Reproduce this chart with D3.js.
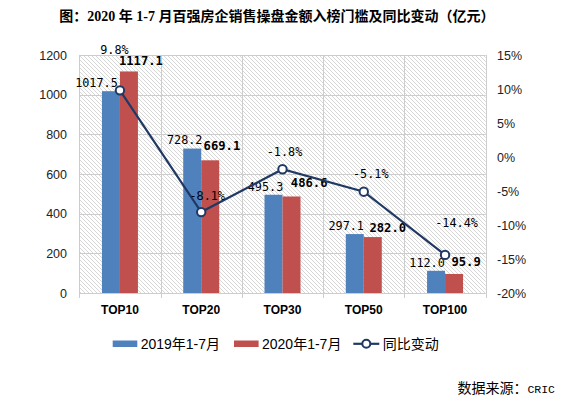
<!DOCTYPE html>
<html><head><meta charset="utf-8">
<script src="https://cdn.jsdelivr.net/npm/d3@7"></script>
<style>
html,body{margin:0;padding:0;background:#fff;}
svg{display:block;}
</style></head>
<body>
<svg id="chart" width="566" height="405"></svg>
<script>
// ---- data ----
const categories = ["TOP10","TOP20","TOP30","TOP50","TOP100"];
const seriesNames = ["2019年1-7月","2020年1-7月","同比变动"];
const values2019 = [1017.5, 728.2, 495.3, 297.1, 112.0];
const values2020 = [1117.1, 669.1, 486.6, 282.0, 95.9];
const yoyChange = [9.8, -8.1, -1.8, -5.1, -14.4];
const leftTicks = [0, 200, 400, 600, 800, 1000, 1200];
const rightTicks = [-20, -15, -10, -5, 0, 5, 10, 15];
const titleText = "图：2020 年 1-7 月百强房企销售操盘金额入榜门槛及同比变动（亿元）";
const sourceLabel = "数据来源：";
const sourceName = "CRIC";

// ---- layout / style ----
const plot = {left: 79.3, right: 485.7, top: 55, bottom: 293};
const colors = {blue: "#4F81BD", red: "#C0504D", line: "#1F3864", grid: "#cdcdcd", hatch: "#d2d2d2"};
// manual label nudges (dx from mark centre, dy from mark top)
const blueLabelNudge = [[-14.5,-4],[-7.5,-4.5],[-8,-4],[-8.6,-4],[-9,-4]];
const redLabelNudge = [[12,-6.5],[11.7,-10],[17.7,-9.4],[15,-5],[12,-7.5]];
const pctLabelNudge = [[-5.5,-36],[6,-12],[2,-13],[7,-14],[11.5,-27.6]];

const svg = d3.select("#chart");
const latin = "'Liberation Sans', 'Noto Sans CJK SC', sans-serif";
const mono = "'DejaVu Sans Mono', monospace";

// pattern
const defs = svg.append("defs");
const pat = defs.append("pattern").attr("id","hatch").attr("patternUnits","userSpaceOnUse")
  .attr("width",4).attr("height",4);
pat.append("path").attr("d","M-1,-1 L5,5 M-1,3 L1,5 M3,-1 L5,1")
  .attr("stroke",colors.hatch).attr("stroke-width",0.9).attr("fill","none");

// scales
const x0 = d3.scaleBand().domain(categories).range([plot.left, plot.right]).padding(0);
const bw = x0.bandwidth();
const x1 = d3.scaleBand().domain([0,1]).range([bw*0.2786, bw*0.7214]).padding(0);
const yL = d3.scaleLinear().domain([0,1200]).range([plot.bottom, plot.top]);
const yR = d3.scaleLinear().domain([-20,15]).range([plot.bottom, plot.top]);

// background hatch
svg.append("rect").attr("x",plot.left).attr("y",plot.top)
  .attr("width",plot.right-plot.left).attr("height",plot.bottom-plot.top)
  .attr("fill","url(#hatch)");

// gridlines
svg.append("g").selectAll("line").data(leftTicks).join("line")
  .attr("x1",plot.left).attr("x2",plot.right)
  .attr("y1",d=>Math.round(yL(d))+0.5).attr("y2",d=>Math.round(yL(d))+0.5)
  .attr("stroke",colors.grid).attr("stroke-width",1);
const bounds = categories.map(c=>x0(c)).concat([plot.right]);
svg.append("g").selectAll("line").data(bounds).join("line")
  .attr("x1",d=>Math.round(d)+0.5).attr("x2",d=>Math.round(d)+0.5)
  .attr("y1",plot.top).attr("y2",plot.bottom+5)
  .attr("stroke",colors.grid).attr("stroke-width",1);

// axes labels
svg.append("g").selectAll("text").data(leftTicks).join("text")
  .attr("x",67).attr("y",d=>yL(d)).attr("dy","0.36em")
  .attr("text-anchor","end").attr("font-family",latin).attr("font-size",12.5)
  .attr("fill","#222").text(d=>d);
svg.append("g").selectAll("text").data(rightTicks).join("text")
  .attr("x",497).attr("y",d=>yR(d)).attr("dy","0.36em")
  .attr("text-anchor","start").attr("font-family",latin).attr("font-size",12.5)
  .attr("fill","#222").text(d=>d+"%");
svg.append("g").selectAll("text").data(categories).join("text")
  .attr("x",d=>x0(d)+bw/2).attr("y",313.5)
  .attr("text-anchor","middle").attr("font-family",latin).attr("font-weight","bold")
  .attr("font-size",12).attr("fill","#000").text(d=>d);

// bars
const seriesVals = [values2019, values2020];
const barColors = [colors.blue, colors.red];
seriesVals.forEach((vals, si) => {
  svg.append("g").selectAll("rect").data(vals).join("rect")
    .attr("x",(d,i)=>x0(categories[i])+x1(si))
    .attr("width",x1.bandwidth())
    .attr("y",d=>yL(d)).attr("height",d=>yL(0)-yL(d))
    .attr("fill",barColors[si]);
});

// bar labels
svg.append("g").selectAll("text").data(values2019).join("text")
  .attr("x",(d,i)=>x0(categories[i])+x1(0)+x1.bandwidth()/2+blueLabelNudge[i][0])
  .attr("y",(d,i)=>yL(d)+blueLabelNudge[i][1])
  .attr("text-anchor","middle").attr("font-family",mono).attr("font-size",11.8)
  .attr("fill","#000").text(d=>d.toFixed(1));
svg.append("g").selectAll("text").data(values2020).join("text")
  .attr("x",(d,i)=>x0(categories[i])+x1(1)+x1.bandwidth()/2+redLabelNudge[i][0])
  .attr("y",(d,i)=>yL(d)+redLabelNudge[i][1])
  .attr("text-anchor","middle").attr("font-family",mono).attr("font-weight","bold")
  .attr("font-size",12.2).attr("fill","#000").text(d=>d.toFixed(1));

// line
const line = d3.line().x((d,i)=>x0(categories[i])+bw/2).y(d=>yR(d));
svg.append("path").datum(yoyChange).attr("d",line)
  .attr("fill","none").attr("stroke",colors.line).attr("stroke-width",2.2);
svg.append("g").selectAll("circle").data(yoyChange).join("circle")
  .attr("cx",(d,i)=>x0(categories[i])+bw/2).attr("cy",d=>yR(d)).attr("r",4.2)
  .attr("fill","#fff").attr("stroke",colors.line).attr("stroke-width",2);
svg.append("g").selectAll("text").data(yoyChange).join("text")
  .attr("x",(d,i)=>x0(categories[i])+bw/2+pctLabelNudge[i][0])
  .attr("y",(d,i)=>yR(d)+pctLabelNudge[i][1])
  .attr("text-anchor","middle").attr("font-family",mono).attr("font-size",11.8)
  .attr("fill","#000").text(d=>d.toFixed(1)+"%");

// title
svg.append("text").attr("x",59.3).attr("y",20.5)
  .attr("font-family","'Liberation Serif', 'Noto Sans CJK SC', serif")
  .attr("font-weight","bold").attr("font-size",14).attr("fill","#000")
  .text(titleText);

// legend
const lg = svg.append("g").attr("font-family",latin).attr("font-size",14).attr("fill","#000");
const legendX = [112.7, 234, 353.3];
[0,1].forEach(i=>{
  lg.append("rect").attr("x",legendX[i]).attr("y",340.5).attr("width",24.6).attr("height",6.5)
    .attr("fill",barColors[i]);
  lg.append("text").attr("x",legendX[i]+28).attr("y",349.3).text(seriesNames[i]);
});
lg.append("line").attr("x1",legendX[2]).attr("x2",legendX[2]+26).attr("y1",343.8).attr("y2",343.8)
  .attr("stroke",colors.line).attr("stroke-width",2.2);
lg.append("circle").attr("cx",legendX[2]+13).attr("cy",343.8).attr("r",4)
  .attr("fill","#fff").attr("stroke",colors.line).attr("stroke-width",2);
lg.append("text").attr("x",legendX[2]+29.4).attr("y",349.3).text(seriesNames[2]);

// source
const src = svg.append("text").attr("x",555).attr("y",393).attr("text-anchor","end")
  .attr("font-size",14).attr("fill","#000");
src.append("tspan").attr("font-family","'Noto Sans CJK SC', sans-serif").text(sourceLabel);
src.append("tspan").attr("font-family","'Liberation Mono', monospace").attr("font-size",11.5).text(sourceName);
</script>
</body></html>
